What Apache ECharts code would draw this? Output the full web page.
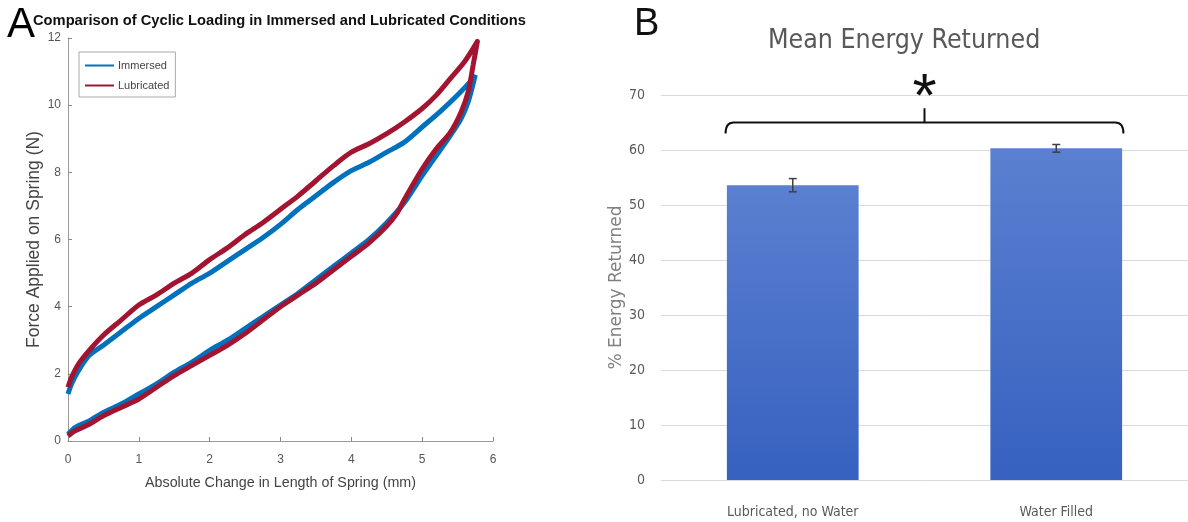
<!DOCTYPE html>
<html>
<head>
<meta charset="utf-8">
<title>Cyclic loading and energy returned</title>
<script src="https://cdn.jsdelivr.net/npm/echarts@6/dist/echarts.min.js"></script>
<style>
    html, body { margin: 0; padding: 0; background: #fff; }
    #main { width: 1188px; height: 522px; }
</style>
</head>
<body>
<div id="main"></div>
<script>
// panel A - hysteresis loops, [change in length (mm), force (N)]
// loading branch first, then the unloading branch back to zero
var immersedLoop = [
    [0, 0.2], [0.1, 0.4], [0.3, 0.6], [0.5, 0.85], [0.75, 1.1], [1, 1.4], [1.25, 1.7], [1.5, 2.05],
    [1.75, 2.35], [2, 2.7], [2.25, 3.0], [2.5, 3.35], [2.75, 3.7], [3, 4.05], [3.25, 4.4], [3.5, 4.8],
    [3.75, 5.2], [4, 5.6], [4.25, 6.0], [4.5, 6.5], [4.75, 7.1], [5, 7.9], [5.2, 8.5], [5.4, 9.1],
    [5.55, 9.6], [5.65, 10.1], [5.75, 10.9],
    [5.72, 10.8], [5.5, 10.3], [5.25, 9.8], [5, 9.35], [4.75, 8.9], [4.5, 8.6], [4.25, 8.3], [4, 8.05],
    [3.75, 7.7], [3.5, 7.3], [3.25, 6.9], [3, 6.45], [2.75, 6.05], [2.5, 5.7], [2.25, 5.35], [2, 5.0],
    [1.75, 4.7], [1.5, 4.35], [1.25, 4.0], [1, 3.65], [0.75, 3.25], [0.5, 2.85], [0.3, 2.55],
    [0.15, 2.1], [0.05, 1.7], [0, 1.4]
];
var lubricatedLoop = [
    [0, 0.15], [0.1, 0.3], [0.3, 0.5], [0.5, 0.75], [0.75, 1.0], [1, 1.25], [1.25, 1.6], [1.5, 1.95],
    [1.75, 2.25], [2, 2.55], [2.25, 2.85], [2.5, 3.2], [2.75, 3.6], [3, 4.0], [3.25, 4.35], [3.5, 4.7],
    [3.75, 5.1], [4, 5.5], [4.25, 5.9], [4.5, 6.4], [4.65, 6.8], [4.75, 7.2], [5, 8.1], [5.2, 8.7],
    [5.4, 9.2], [5.55, 9.8], [5.65, 10.4], [5.72, 11.2], [5.78, 11.9],
    [5.6, 11.3], [5.4, 10.8], [5.2, 10.3], [5, 9.9], [4.75, 9.5], [4.5, 9.15], [4.25, 8.85], [4, 8.6],
    [3.75, 8.2], [3.5, 7.75], [3.25, 7.3], [3, 6.9], [2.75, 6.5], [2.5, 6.15], [2.25, 5.75], [2, 5.4],
    [1.75, 5.0], [1.5, 4.7], [1.25, 4.35], [1, 4.05], [0.75, 3.6], [0.5, 3.15], [0.3, 2.7],
    [0.15, 2.3], [0.05, 1.9], [0, 1.6]
];

// panel B - mean energy returned (%)
var energyCategories = ['Lubricated, no Water', 'Water Filled'];
var energyMeans = [53.6, 60.3];
var energyErrors = [1.2, 0.7];
var bracketLevel = 65;

var condensed = '"DejaVu Sans Condensed", "DejaVu Sans", sans-serif';

(function () {
    var dom = document.getElementById('main');
    var myChart = echarts.init(dom, null, { renderer: 'canvas' });

    var errorData = energyMeans.map(function (m, i) {
        return [i, m - energyErrors[i], m + energyErrors[i]];
    });

    option = {
        backgroundColor: '#fff',
        animation: false,
        title: [
            {
                text: 'A', left: 7, top: 4, padding: 0,
                textStyle: { fontSize: 42, fontWeight: 'normal', color: '#000', fontFamily: 'Liberation Sans' }
            },
            {
                text: 'Comparison of Cyclic Loading in Immersed and Lubricated Conditions', left: 33, top: 13, padding: 0,
                textStyle: { fontSize: 14.7, fontWeight: 'bold', color: '#111', fontFamily: 'Liberation Sans' }
            },
            {
                text: 'B', left: 634, top: 6, padding: 0,
                textStyle: { fontSize: 38, fontWeight: 'normal', color: '#111', fontFamily: 'Liberation Sans' }
            },
            {
                text: 'Mean Energy Returned', left: 768, top: 28, padding: 0,
                textStyle: { fontSize: 26.5, fontWeight: 'normal', color: '#595959', fontFamily: condensed }
            }
        ],
        legend: {
            data: ['Immersed', 'Lubricated'],
            orient: 'vertical',
            left: 79,
            top: 52,
            borderColor: '#aaa',
            borderWidth: 1,
            borderRadius: 0,
            padding: [8, 6, 6, 6],
            itemGap: 9,
            itemWidth: 29,
            itemHeight: 2,
            icon: 'rect',
            textStyle: { fontSize: 11, color: '#444', fontFamily: 'Liberation Sans', padding: [0, 0, 0, -1] }
        },
        grid: [
            { left: 68, right: 695, top: 38, bottom: 81 },
            { left: 661, right: -15, top: 95, bottom: 42 }
        ],
        xAxis: [
            {
                gridIndex: 0,
                type: 'value',
                min: 0, max: 6, interval: 1,
                name: 'Absolute Change in Length of Spring (mm)',
                nameLocation: 'middle',
                nameGap: 35,
                nameTextStyle: { fontSize: 14.3, color: '#444', fontFamily: 'Liberation Sans' },
                axisLine: { lineStyle: { color: '#999' } },
                axisTick: { inside: true, length: 4, lineStyle: { color: '#888' } },
                axisLabel: { fontSize: 12, color: '#555', margin: 13, fontFamily: 'Liberation Sans' },
                splitLine: { show: false }
            },
            {
                gridIndex: 1,
                type: 'category',
                data: energyCategories,
                axisLine: { show: false },
                axisTick: { show: false },
                axisLabel: { fontSize: 14, color: '#595959', fontFamily: condensed, margin: 25 }
            }
        ],
        yAxis: [
            {
                gridIndex: 0,
                type: 'value',
                min: 0, max: 12, interval: 2,
                name: 'Force Applied on Spring (N)',
                nameLocation: 'middle',
                nameGap: 25,
                nameTextStyle: { fontSize: 17.5, color: '#444', fontFamily: 'Liberation Sans' },
                axisLine: { show: true, lineStyle: { color: '#999' } },
                axisTick: { show: true, inside: true, length: 4, lineStyle: { color: '#888' } },
                axisLabel: { fontSize: 12, color: '#555', margin: 7, fontFamily: 'Liberation Sans' },
                splitLine: { show: false }
            },
            {
                gridIndex: 1,
                type: 'value',
                min: 0, max: 70, interval: 10,
                name: '% Energy Returned',
                nameLocation: 'middle',
                nameGap: 36,
                nameTextStyle: { fontSize: 17, color: '#808080', fontFamily: '"DejaVu Sans", sans-serif' },
                axisLine: { show: false },
                axisTick: { show: false },
                axisLabel: { fontSize: 14, color: '#595959', fontFamily: condensed, margin: 16 },
                splitLine: { lineStyle: { color: '#d9d9d9', width: 1 } }
            }
        ],
        series: [
            {
                name: 'Immersed',
                type: 'line',
                xAxisIndex: 0, yAxisIndex: 0,
                data: immersedLoop,
                symbol: 'none',
                smooth: 0.3,
                color: '#0072BD',
                lineStyle: { width: 5 }
            },
            {
                name: 'Lubricated',
                type: 'line',
                xAxisIndex: 0, yAxisIndex: 0,
                data: lubricatedLoop,
                symbol: 'none',
                smooth: 0.3,
                color: '#A2142F',
                lineStyle: { width: 5 }
            },
            {
                name: 'Mean Energy',
                type: 'bar',
                xAxisIndex: 1, yAxisIndex: 1,
                data: energyMeans,
                barWidth: '50%',
                itemStyle: {
                    color: new echarts.graphic.LinearGradient(0, 0, 0, 1, [
                        { offset: 0, color: '#5b80d1' },
                        { offset: 1, color: '#3661bf' }
                    ])
                }
            },
            {
                // error bars
                type: 'custom',
                xAxisIndex: 1, yAxisIndex: 1,
                data: errorData,
                encode: { x: 0, y: [1, 2] },
                z: 5,
                renderItem: function (params, api) {
                    var lo = api.coord([api.value(0), api.value(1)]);
                    var hi = api.coord([api.value(0), api.value(2)]);
                    var cap = 4;
                    var st = { stroke: '#3f3f3f', lineWidth: 1.5 };
                    return {
                        type: 'group',
                        children: [
                            { type: 'line', shape: { x1: hi[0], y1: hi[1], x2: lo[0], y2: lo[1] }, style: st },
                            { type: 'line', shape: { x1: hi[0] - cap, y1: hi[1], x2: hi[0] + cap, y2: hi[1] }, style: st },
                            { type: 'line', shape: { x1: lo[0] - cap, y1: lo[1], x2: lo[0] + cap, y2: lo[1] }, style: st }
                        ]
                    };
                }
            },
            {
                // significance bracket
                type: 'custom',
                xAxisIndex: 1, yAxisIndex: 1,
                data: [[0, bracketLevel]],
                clip: false,
                z: 6,
                renderItem: function (params, api) {
                    var band = api.size([1, 0])[0];
                    var p0 = api.coord([0, api.value(1)]);
                    var p1 = api.coord([1, api.value(1)]);
                    var l = p0[0] - band * 0.255, r = p1[0] + band * 0.255;
                    var ym = p0[1];
                    var yEnd = api.coord([0, api.value(1) - 2])[1];
                    var yTop = api.coord([0, api.value(1) + 2.6])[1];
                    var yStar = api.coord([0, api.value(1) + 4.3])[1];
                    var c = (l + r) / 2;
                    var d = 'M' + l + ' ' + yEnd + ' Q' + l + ' ' + ym + ' ' + (l + 8) + ' ' + ym +
                        ' L' + (r - 8) + ' ' + ym + ' Q' + r + ' ' + ym + ' ' + r + ' ' + yEnd +
                        ' M' + c + ' ' + ym + ' L' + c + ' ' + yTop;
                    return {
                        type: 'group',
                        children: [
                            { type: 'path', shape: { pathData: d }, style: { fill: null, stroke: '#111', lineWidth: 2 } },
                            {
                                type: 'text',
                                style: {
                                    text: '*', x: c, y: yStar, align: 'center', verticalAlign: 'middle',
                                    fontSize: 62, fill: '#111', fontFamily: 'Liberation Sans'
                                }
                            }
                        ]
                    };
                }
            }
        ]
    };

    if (option && typeof option === "object") {
        myChart.setOption(option, true);
        window.onresize = myChart.resize;
    }
})();
</script>
</body>
</html>
